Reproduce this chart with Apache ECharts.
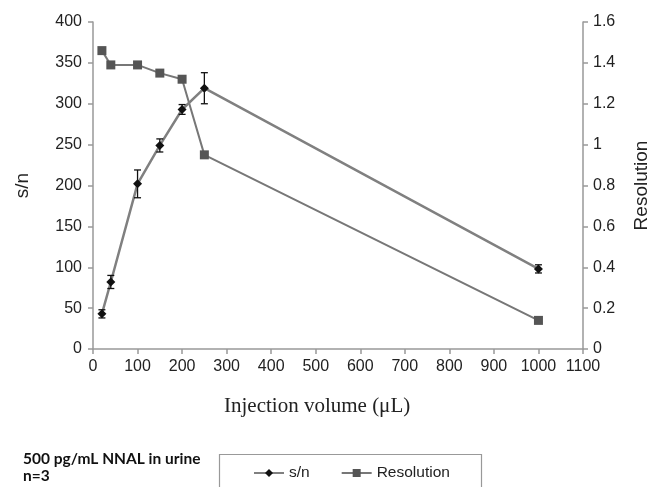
<!DOCTYPE html>
<html>
<head>
<meta charset="utf-8">
<script src="https://cdn.jsdelivr.net/npm/echarts@6/dist/echarts.min.js"></script>
<style>
html,body{margin:0;padding:0;background:#fff;}
#chart{width:659px;height:487px;}
</style>
</head>
<body>
<div id="chart"></div>
<script>
// Data
const volumes = [20, 40, 100, 150, 200, 250, 1000];
const snValues = [43, 82, 202, 249, 293, 319, 98];
const snErrors = [5, 8, 17, 8, 6, 19, 5];
const resolutionValues = [1.46, 1.39, 1.39, 1.35, 1.32, 0.95, 0.14];
const xTickLabels = ['0','100','200','300','400','500','600','700','800','900','1000','1100'];
const seriesNames = ['s/n', 'Resolution'];

const chart = echarts.init(document.getElementById('chart'), null, {renderer: 'canvas'});

const snData = volumes.map((v, i) => [v, snValues[i]]);
const resData = volumes.map((v, i) => [v, resolutionValues[i]]);
const errData = volumes.map((v, i) => [v, snValues[i] - snErrors[i], snValues[i] + snErrors[i]]);

const axisLineStyle = {color: '#999', width: 1.5};
const labelStyle = {color: '#222', fontSize: 16, fontFamily: 'Liberation Sans, Arial, sans-serif'};

chart.setOption({
  animation: false,
  backgroundColor: '#fff',
  grid: {left: 93, right: 69, top: 22, bottom: 138, containLabel: false},
  legend: {
    data: seriesNames,
    left: 253,
    top: 465,
    padding: 0,
    itemWidth: 30,
    itemHeight: 10,
    itemGap: 31,
    textStyle: {color: '#222', fontSize: 15.5, fontFamily: 'Liberation Sans, Arial, sans-serif'}
  },
  xAxis: {
    type: 'value',
    min: 0, max: 1100, interval: 100,
    axisLine: {show: true, lineStyle: axisLineStyle},
    axisTick: {show: true, inside: false, length: 5, lineStyle: axisLineStyle},
    splitLine: {show: false},
    axisLabel: {margin: 10, ...labelStyle, formatter: (v) => xTickLabels[Math.round(v / 100)]}
  },
  yAxis: [
    {
      type: 'value',
      min: 0, max: 400, interval: 50,
      name: 's/n',
      nameLocation: 'middle',
      nameRotate: 90,
      nameGap: 61,
      nameTextStyle: {color: '#222', fontSize: 19, fontFamily: 'Liberation Sans, Arial, sans-serif'},
      axisLine: {show: true, lineStyle: axisLineStyle},
      axisTick: {show: true, inside: false, length: 5, lineStyle: axisLineStyle},
      splitLine: {show: false},
      axisLabel: {margin: 11, ...labelStyle}
    },
    {
      type: 'value',
      min: 0, max: 1.6, interval: 0.2,
      position: 'right',
      name: 'Resolution',
      nameLocation: 'middle',
      nameRotate: 90,
      nameGap: 49,
      nameTextStyle: {color: '#222', fontSize: 19, fontFamily: 'Liberation Sans, Arial, sans-serif'},
      axisLine: {show: true, lineStyle: axisLineStyle},
      axisTick: {show: true, inside: false, length: 5, lineStyle: axisLineStyle},
      splitLine: {show: false},
      axisLabel: {margin: 10, ...labelStyle, formatter: (v) => String(Math.round(v * 10) / 10)}
    }
  ],
  graphic: [
    {
      type: 'text',
      left: 224, top: 396,
      style: {text: 'Injection volume (μL)', fill: '#222', fontSize: 21, fontFamily: 'Liberation Serif, Times New Roman, serif'}
    },
    {
      type: 'text',
      left: 23, top: 451,
      style: {text: '500 pg/mL NNAL in urine', fill: '#111', fontSize: 15.5, fontWeight: 'bold', fontFamily: 'Lato, Open Sans, sans-serif'}
    },
    {
      type: 'text',
      left: 23, top: 468,
      style: {text: 'n=3', fill: '#111', fontSize: 15.5, fontWeight: 'bold', fontFamily: 'Lato, Open Sans, sans-serif'}
    },
    {
      type: 'rect',
      left: 217, top: 452,
      shape: {width: 262, height: 60},
      style: {fill: 'none', stroke: '#999', lineWidth: 1.2}
    }
  ],
  series: [
    {
      name: 's/n',
      type: 'line',
      xAxisIndex: 0, yAxisIndex: 0,
      data: snData,
      symbol: 'diamond',
      symbolSize: 9,
      itemStyle: {color: '#111'},
      lineStyle: {color: '#808080', width: 2.5},
      z: 3
    },
    {
      name: 'Resolution',
      type: 'line',
      xAxisIndex: 0, yAxisIndex: 1,
      data: resData,
      symbol: 'rect',
      symbolSize: 9,
      itemStyle: {color: '#555'},
      lineStyle: {color: '#777', width: 2},
      z: 2
    },
    {
      type: 'custom',
      xAxisIndex: 0, yAxisIndex: 0,
      data: errData,
      z: 4,
      silent: true,
      renderItem: function (params, api) {
        const x = api.value(0);
        const lo = api.coord([x, api.value(1)]);
        const hi = api.coord([x, api.value(2)]);
        const cap = 3.5;
        const st = {stroke: '#111', lineWidth: 1.3};
        return {
          type: 'group',
          children: [
            {type: 'line', shape: {x1: lo[0], y1: lo[1], x2: hi[0], y2: hi[1]}, style: st},
            {type: 'line', shape: {x1: lo[0] - cap, y1: lo[1], x2: lo[0] + cap, y2: lo[1]}, style: st},
            {type: 'line', shape: {x1: hi[0] - cap, y1: hi[1], x2: hi[0] + cap, y2: hi[1]}, style: st}
          ]
        };
      }
    }
  ]
});
</script>
</body>
</html>
